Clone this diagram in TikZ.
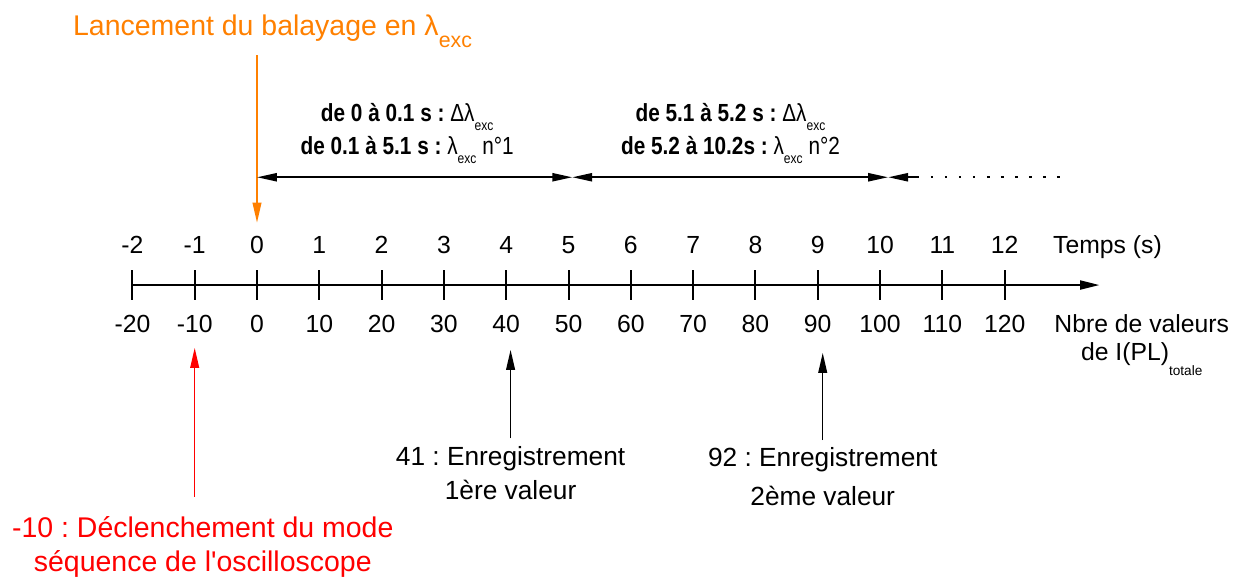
\documentclass[tikz,border=0pt]{standalone}
\usepackage{fontspec}
\setmainfont{Liberation Sans}
\newfontfamily\condfont[FakeStretch = 0.84]{Liberation Sans}
\usepackage{xcolor}
\usepackage{tikz}
\usetikzlibrary{positioning, calc, arrows.meta}

\definecolor{lanceorange}{RGB}{255,128,0}
\definecolor{declred}{RGB}{255,0,0}
\newcommand{\lowtxt}[3]{\raisebox{-#2em}{\scalebox{#1}{#3}}}
\frenchspacing

\begin{document}
\begin{tikzpicture}[font = \fontsize{11.3}{13}\selectfont,
        axistick/.style = {line width = 0.9pt},
        axisline/.style = {line width = 0.9pt},
        headarrow/.style = {-{Triangle[length = 3.2mm, width = 1.4mm]}},
        phasearrow/.style = {line width = 0.9pt,
        {Triangle[length = 3.2mm, width = 1.3mm]}-{Triangle[length = 3.2mm,
        width = 1.3mm]}},
        boldlab/.style = {font = \condfont\bfseries\fontsize{11.3}{15}%
        \selectfont, align = center, anchor = north},
        enreglab/.style = {anchor = north, align = center}]
        \useasboundingbox (-4.125, -4.783) rectangle (15.89, 4.575);
        \coordinate (axstart) at (-2, 0);
        \coordinate (axthick) at (11.8, 0);
        \coordinate (axend) at (13.53, 0);
        \draw [axisline] (axstart) -- (axthick);
        \draw [axisline, line width = 1.3pt, headarrow] (axthick) -- (axend);
        \draw [axistick] (-2, 0.24) -- (-2, -0.24) node [pos = 0, above =
        3.6pt] (sm2) {-2} node [pos = 1, below = 3.2pt] (nm20) {-20};
        \draw [axistick] (-1, 0.24) -- (-1, -0.24) node [pos = 0, above =
        3.6pt] (sm1) {-1} node [pos = 1, below = 3.2pt] (nm10) {-10};
        \draw [axistick] (0, 0.24) -- (0, -0.24) node [pos = 0, above =
        3.6pt] (s0) {0} node [pos = 1, below = 3.2pt] (n0) {0};
        \draw [axistick] (1, 0.24) -- (1, -0.24) node [pos = 0, above =
        3.6pt] (s1) {1} node [pos = 1, below = 3.2pt] (n10) {10};
        \draw [axistick] (2, 0.24) -- (2, -0.24) node [pos = 0, above =
        3.6pt] (s2) {2} node [pos = 1, below = 3.2pt] (n20) {20};
        \draw [axistick] (3, 0.24) -- (3, -0.24) node [pos = 0, above =
        3.6pt] (s3) {3} node [pos = 1, below = 3.2pt] (n30) {30};
        \draw [axistick] (4, 0.24) -- (4, -0.24) node [pos = 0, above =
        3.6pt] (s4) {4} node [pos = 1, below = 3.2pt] (n40) {40};
        \draw [axistick] (5, 0.24) -- (5, -0.24) node [pos = 0, above =
        3.6pt] (s5) {5} node [pos = 1, below = 3.2pt] (n50) {50};
        \draw [axistick] (6, 0.24) -- (6, -0.24) node [pos = 0, above =
        3.6pt] (s6) {6} node [pos = 1, below = 3.2pt] (n60) {60};
        \draw [axistick] (7, 0.24) -- (7, -0.24) node [pos = 0, above =
        3.6pt] (s7) {7} node [pos = 1, below = 3.2pt] (n70) {70};
        \draw [axistick] (8, 0.24) -- (8, -0.24) node [pos = 0, above =
        3.6pt] (s8) {8} node [pos = 1, below = 3.2pt] (n80) {80};
        \draw [axistick] (9, 0.24) -- (9, -0.24) node [pos = 0, above =
        3.6pt] (s9) {9} node [pos = 1, below = 3.2pt] (n90) {90};
        \draw [axistick] (10, 0.24) -- (10, -0.24) node [pos = 0, above =
        3.6pt] (s10) {10} node [pos = 1, below = 3.2pt] (n100) {100};
        \draw [axistick] (11, 0.24) -- (11, -0.24) node [pos = 0, above =
        3.6pt] (s11) {11} node [pos = 1, below = 3.2pt] (n110) {110};
        \draw [axistick] (12, 0.24) -- (12, -0.24) node [pos = 0, above =
        3.6pt] (s12) {12} node [pos = 1, below = 3.2pt] (n120) {120};
        \node [anchor = base] (temps) at (13.65, 0.50) {Temps (s)};
        \node [anchor = north, align = center, font = \fontsize{11.3}{12.8}%
        \selectfont] (nbre) at (14.2, -0.347) {Nbre de valeurs\\de
        I(PL)\lowtxt{0.55}{0.6}{totale}};
        \node [anchor = base, text = lanceorange, font = \fontsize{13}{15.5}%
        \selectfont] (lance) at (0.25, 4.01) {Lancement du balayage en
        λ\lowtxt{0.75}{0.42}{exc}};
        \draw [headarrow, lanceorange, line width = 0.7pt, shorten >= 2.5pt]
        (lance.south -| s0.north) -- (s0.north);
        \coordinate (a0) at (0, 1.73);
        \coordinate (a5) at (5.06, 1.73);
        \coordinate (a10) at (10.13, 1.73);
        \coordinate (a11) at (10.59, 1.73);
        \coordinate (aend) at (12.97, 1.73);
        \draw [phasearrow] (a0) -- (a5);
        \draw [phasearrow] (a5) -- (a10);
        \draw [line width = 0.9pt, -{Triangle[length = 3.2mm, width =
        1.3mm]}] (a11) -- (a10);
        \draw [line width = 0.9pt, dash pattern = on 1.2pt off 5.2pt] (a11)
        -- (aend);
        \node [boldlab] (phase1) at (2.41, 3.04) {de 0 à 0.1 s : {\mdseries
        Δλ\lowtxt{0.58}{0.35}{exc}}\\de 0.1 à 5.1 s : {\mdseries
        λ\lowtxt{0.58}{0.35}{exc} n°1}};
        \node [boldlab] (phase2) at (7.6, 3.04) {de 5.1 à 5.2 s : {\mdseries
        Δλ\lowtxt{0.58}{0.35}{exc}}\\de 5.2 à 10.2s : {\mdseries
        λ\lowtxt{0.58}{0.35}{exc} n°2}};
        \node [enreglab, font = \fontsize{12}{15.5}\selectfont] (enreg1) at
        (4.07, -2.46) {41 : Enregistrement\\1ère valeur};
        \node [enreglab, font = \fontsize{12}{17.7}\selectfont] (enreg2) at
        (9.08, -2.49) {92 : Enregistrement\\2ème valeur};
        \draw [headarrow, line width = 0.7pt, shorten >= 4pt] (enreg1.north)
        -- (enreg1.north |- n40.south);
        \draw [headarrow, line width = 0.7pt, shorten >= 5.4pt]
        (enreg2.north) -- (enreg2.north |- n90.south);
        \node [anchor = north, align = center, text = declred, font =
        \fontsize{13}{15.5}\selectfont] (decl) at (-0.87, -3.59) {-10 :
        Déclenchement du mode\\séquence de l\textquotesingle oscilloscope};
        \draw [headarrow, declred, line width = 0.7pt, shorten <= 5.4pt,
        shorten >= 3.1pt] (decl.north -| nm10.south) -- (nm10.south);
    \end{tikzpicture}
\end{document}
